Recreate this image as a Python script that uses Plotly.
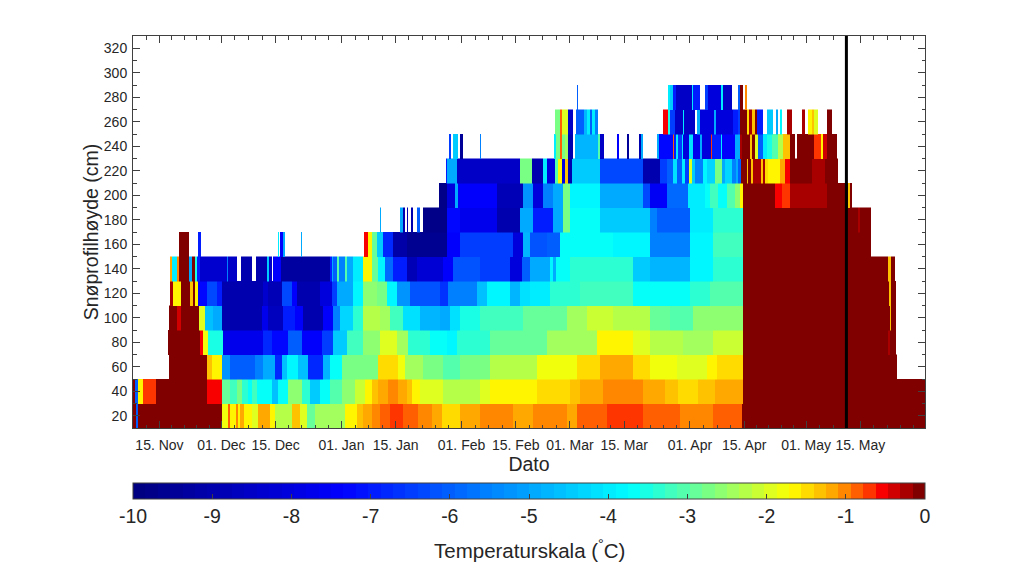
import numpy as np
import plotly.graph_objects as go

# Days are counted from 1 November; each layer is a run list of (end_day, temperature).
START_DAY = 7.16
END_DAY = 211.7
MARK_DAY = 191.4
TICK_DAYS = [14, 30, 44, 61, 75, 92, 106, 120, 134, 151, 165, 181, 195]
TICK_TEXT = ["15. Nov", "01. Dec", "15. Dec", "01. Jan", "15. Jan", "01. Feb", "15. Feb",
             "01. Mar", "15. Mar", "01. Apr", "15. Apr", "01. May", "15. May"]
DEPTH_TICKS = list(range(20, 321, 20))
SCALE_TICKS = list(range(-10, 1))
SCALE_TEXT = ["-10", "-9", "-8", "-7", "-6", "-5", "-4", "-3", "-2", "-1", "0"]

LAYER_20 = [(7.9,0),(8.4,-6),(30.2,-0.02),(31.7,-1.8),(32.2,-0.9),(33.8,-1.7),(34.3,-1),(34.8,-1.6),(35.8,-1.1),(37.9,-1.7),(39.4,-1.9),(42.5,-1.2),(43.8,-1.7),(48.2,-2.3),(50.3,-1.3),(52.1,-2),(54.2,-2.9),(61.9,-2.4),(65,-1.6),(66.6,-1.4),(68.9,-1.1),(71,-1),(73.5,-0.85),(76.9,-0.7),(80.8,-0.85),(84.4,-1.05),(87,-1.15),(91.6,-1.5),(96.8,-1.25),(105.3,-1.05),(110.5,-1.1),(119.3,-0.95),(121.8,-1.15),(129.6,-0.8),(138.9,-0.7),(148.5,-0.85),(157,-1.05),(164.5,-0.85),(211.7,-0.02)]
LAYER_40 = [(7.7,0),(8.4,-6),(9.7,-1.6),(13.1,-0.75),(26.3,-0.02),(30.2,-0.6),(32.2,-2.9),(34,-3.2),(35.3,-2.8),(36.9,-3.3),(37.9,-3.6),(39.2,-3.2),(43.1,-3.6),(44.6,-4.6),(47.2,-3.6),(50.8,-2.6),(52.9,-3.4),(55.5,-4.4),(58,-3.7),(61.1,-3),(64.5,-2.6),(67.1,-2.1),(68.9,-1.7),(70.4,-1.4),(73,-1.15),(75.6,-0.95),(78,-1.1),(79.2,-1.4),(81.3,-1.6),(87.2,-2),(91.6,-2.3),(96.8,-2.2),(99.4,-1.9),(111.5,-1.65),(120,-1.5),(122.6,-1.3),(128.6,-1.15),(138.9,-1),(144.6,-1.25),(148,-1.4),(153.1,-1.55),(157.5,-1.35),(164.7,-1.2),(211.7,-0.02)]
LAYER_60 = [(16.5,None),(26.3,-0.02),(27.6,-1.3),(30.2,-1.7),(32.2,-5.2),(38.7,-6),(40.7,-5.5),(43.8,-5),(45.6,-6.8),(46.9,-4.6),(49.8,-3.8),(52.4,-4.6),(56.2,-6.8),(58,-4.8),(61.1,-3.6),(70.4,-2.8),(75.6,-1.5),(77.4,-1.75),(82.1,-2.4),(87.2,-2.8),(91.6,-3.1),(99.4,-2.7),(111.5,-2.2),(121.8,-1.85),(127.8,-1.5),(136.3,-1.25),(140.7,-1.5),(142.5,-1.75),(147.7,-1.85),(151.8,-2),(155.4,-1.9),(158,-1.7),(164.7,-1.55),(204.5,-0.02)]
LAYER_80 = [(16.3,None),(24.47,-0.02),(25.2,-0.5),(26.5,-1.8),(30.4,-3.5),(40.7,-7.7),(43.1,-6.8),(47.2,-7.3),(50.8,-6),(56,-7.5),(58.8,-6.5),(62.4,-4.4),(66.6,-3.2),(71,-2.6),(75.3,-1.9),(78.2,-2.4),(83.9,-3.3),(88.3,-3.7),(90.8,-3.9),(99.4,-3.3),(114.1,-2.9),(127,-2.5),(136.3,-1.7),(140.7,-2),(149.2,-2.3),(157,-2.4),(164.7,-2.1),(202.2,-0.02),(202.7,-0.3),(204.2,-0.02)]
LAYER_100 = [(16.5,None),(18.5,0),(19.5,-0.4),(24.2,-0.02),(25.8,-1.9),(27.8,-4.6),(30.2,-5),(40.5,-9),(42,-7.8),(45.9,-8.7),(49,-7),(51.1,-7.5),(56.2,-9),(58.8,-7.5),(60.6,-5.5),(64,-4.3),(66.6,-3.4),(71,-2.3),(73.5,-2.4),(76.9,-3.2),(81.3,-4.2),(86.5,-4.8),(89,-5),(91.6,-4.2),(96.8,-3.5),(107.9,-3.2),(119.3,-2.9),(124.4,-2.5),(131.2,-2.1),(140.7,-2.3),(145.9,-2.9),(151.8,-3),(164.7,-2.6),(202.7,-0.02),(203,-1.4),(204.2,-0.02)]
LAYER_120 = [(16.6,None),(17.5,-0.3),(19.5,-1.6),(21.9,0),(22.7,-1.4),(23.2,0),(24,-1.6),(26.3,-7.2),(28.9,-6.3),(30.2,-7),(40.7,-9),(42,-8.4),(45.6,-8.8),(48.2,-6.3),(49.5,-7.5),(55.5,-9),(58.5,-8),(59.8,-6.5),(64,-5),(66.6,-3.8),(70.2,-2.6),(72.8,-2.8),(75.3,-3.8),(78.7,-5.2),(86.5,-6.1),(88.5,-6.6),(96,-5.5),(98.6,-4.6),(104.5,-3.9),(107.1,-4.8),(109.7,-4.2),(114.9,-4),(122.6,-3.4),(136.3,-3.2),(151,-3.6),(156.2,-3.4),(164.7,-3),(202.4,-0.02),(202.8,-1.3),(204.1,-0.02)]
LAYER_140 = [(16.7,None),(17.2,-1.1),(18.5,-4),(19,-1),(21.6,0),(22.4,-5),(23.2,0),(23.7,-3.5),(24.5,-7),(31.4,-8.3),(31.8,-5.5),(34,-8.5),(35.1,None),(37.9,-9),(39,None),(41.8,-9),(42.2,-4.5),(43,-8.5),(43.2,None),(45.4,-7.5),(58,-9.3),(58.5,-7),(58.8,-5),(59.9,-6),(60.4,-3),(61.9,-5.5),(62.4,-3),(64,-5),(66.6,-4),(68.9,-1.6),(70.4,-2.9),(72.2,-3.9),(74.3,-5.8),(78,-7),(80.5,-8.8),(87.2,-8.2),(89.8,-7.4),(96.8,-6.2),(104.5,-6.5),(107.6,-8),(109.7,-6),(114.9,-5),(115.6,-3.8),(116.4,-5),(120,-3.6),(136.3,-3.4),(140.7,-4.4),(151,-4.8),(157,-3.8),(164.7,-3.3),(202.2,-0.02),(203,-1.3),(204,-0.02)]
LAYER_160 = [(19,None),(21.6,0),(24,None),(24.7,-7),(44.6,None),(44.9,-4),(45.1,None),(45.9,-7.5),(46.4,-5),(50.5,None),(50.7,-5),(66.8,None),(67.9,-0.5),(68.9,-1.7),(70.2,-2.9),(71.7,-4.5),(74.3,-6.8),(78,-9.2),(88.3,-9.6),(91.6,-7.5),(105.3,-6.5),(107.9,-8),(109.7,-4.8),(114.1,-6.2),(117.5,-6),(120,-3.6),(131.2,-3.7),(140.7,-3.9),(151,-5.5),(157,-3.9),(164.7,-3.2),(197.8,-0.02)]
LAYER_180 = [(71,None),(71.2,-5),(76.1,None),(76.9,-5),(77.4,-9),(78,None),(78.3,-9),(79,None),(79.4,-9),(80.5,None),(81.3,-6),(82.1,None),(88.3,-9.8),(91.6,-7.3),(101.2,-7.8),(107.1,-9),(110.5,-5),(115.6,-7),(118.2,-5),(120,-2.8),(127.8,-3.7),(140.7,-4.4),(142.5,-5.5),(151,-6),(157,-4),(164.7,-3.4),(194.5,-0.02),(195,-0.2),(197.8,-0.02)]
LAYER_200 = [(86.2,None),(88.3,-9.7),(90.3,-8),(91.1,-5),(101.2,-7.5),(107.9,-8.8),(110.5,-5.2),(113.1,-8),(115.6,-5.5),(118.2,-5),(120,-2.8),(127.8,-3.9),(138.9,-5),(140.7,-6.3),(143.3,-7.6),(145.1,-7.4),(150.5,-5.8),(154.9,-4),(156.2,-3.7),(158.2,-3.2),(160.6,-3.7),(162.6,-3.1),(164,-2.6),(164.7,-1.7),(173,-0.02),(174.8,-0.6),(176.9,-0.75),(181.2,-0.2),(186.4,-0.3),(191.8,-0.02),(192.4,-1.3),(192.8,-0.02)]
LAYER_220 = [(88,None),(88.3,-7),(90.8,-5),(107.1,-8.5),(110.2,-2.8),(113.1,-9),(114.1,-4),(116.2,-8),(117,-3),(118,-1.7),(118.8,-8),(119.5,-1.4),(120.6,-9),(127.8,-4.4),(138.9,-6.3),(143.3,-9),(145.1,-6.5),(146.6,-6),(147.7,-4.2),(149,-6),(149.7,-4),(150.8,-6.5),(151.5,-2),(152.3,-4.5),(154.4,-5.5),(155.4,-3.8),(157.5,-4.3),(159.3,-2.8),(160.1,-5),(161.9,-4.3),(162.9,-5.5),(163.4,-5),(164.2,-6),(165.8,-0.05),(166,-1.3),(166.8,-0.05),(167.3,-1.3),(169.4,-0.2),(169.9,-1.3),(170.4,-0.3),(171.2,-1.5),(174.3,-1.7),(175.6,-1.2),(176.9,-0.6),(182.5,-0.05),(185.9,-0.3),(189.2,-0.05)]
LAYER_240 = [(88.8,None),(89.3,-6.5),(89.8,None),(91.1,-4.5),(91.6,None),(92.4,-9.5),(96.8,None),(97.1,-5.5),(115.9,None),(116.4,-4),(117.5,-2.8),(118,-0.8),(118.8,-2.8),(119.5,-2.5),(120.8,-9),(121.3,None),(127.3,-4.8),(127.8,-3),(128.8,-8.5),(132.2,None),(132.7,-7.5),(134.8,None),(135.3,-9.5),(137.9,None),(138.4,-9),(138.9,-5),(142.5,None),(143,-5),(146.6,-7.2),(147,-0.8),(147.4,-7),(147.9,-4),(149,-6.5),(149.3,-4),(150.8,-8),(151.8,-4.2),(153.6,-7.8),(154.2,-5),(156.4,-8),(156.8,-0.7),(159,-7),(159.4,-4),(162.6,-7.5),(164,-5),(164.5,-0.3),(166.5,-0.05),(166.9,-1.3),(167.8,-0.05),(168.6,-2),(169.9,-6),(170.9,-4),(172.2,-3.5),(173.8,-3),(175.1,-2.3),(176.9,-1.4),(178.2,-0.1),(178.7,None),(183.1,-0.05),(184.9,-0.7),(185.3,-1.6),(186.4,-0.4),(189,-0.05)]
LAYER_260 = [(116.2,None),(117.5,-2.8),(118,-0.8),(118.5,-2),(119.5,-1.9),(120.8,-8.5),(121.6,None),(123.7,-6),(124.4,-4.7),(125.2,-4),(125.7,-6),(126.5,-4),(127.3,-5.5),(144,None),(145.3,-0.5),(145.8,-3.5),(147.1,-6.5),(149.2,-8.5),(149.5,-4),(152.3,-8.5),(152.8,None),(153.6,-5),(157.2,-8),(157.7,-5),(162.2,-8),(163.5,-7),(164,-6.5),(165.8,0),(166.3,-1.5),(167,-0.3),(167.8,-1.3),(168.3,0),(169.9,-7),(170.9,None),(172.5,-4.5),(173.3,None),(173.8,-5),(174.3,None),(174.8,-3.8),(176.1,None),(177.4,-0.3),(180,None),(180.7,-0.3),(181.5,None),(182.5,-1.7),(183.1,-1.3),(184.1,-1.9),(186.4,None),(187.7,0)]
LAYER_280 = [(118.9,None),(119.1,-2),(121.8,None),(122.1,-6),(145.3,None),(145.8,-4),(146.6,-4.5),(147.4,-7),(151.5,-8.5),(151.9,-4),(153.6,-7),(154.9,None),(155.6,-6.5),(159,-8),(159.5,-4),(161.9,-8.5),(163.5,None),(164,-6),(164.7,0),(165.2,None),(165.8,-1)]

LAYERS = {20: LAYER_20, 40: LAYER_40, 60: LAYER_60, 80: LAYER_80, 100: LAYER_100, 120: LAYER_120,
          140: LAYER_140, 160: LAYER_160, 180: LAYER_180, 200: LAYER_200, 220: LAYER_220,
          240: LAYER_240, 260: LAYER_260, 280: LAYER_280}

# Colour bar anchors: temperature and colour as seen on the reference scale.
ANCHOR_TEMP = [-10, -7.4, -3.7, -2.65, -1.65, -1.05, -0.65, -0.5, 0]
ANCHOR_R = [0, 0, 0, 128, 255, 255, 255, 255, 128]
ANCHOR_G = [0, 0, 255, 255, 255, 160, 60, 0, 0]
ANCHOR_B = [130, 255, 255, 128, 0, 0, 0, 0, 0]
LEVELS = 64

scale = []
for i in range(LEVELS):
    t = -10 + 10 * i / (LEVELS - 1)
    c = "rgb(%d,%d,%d)" % tuple(np.interp(t, ANCHOR_TEMP, a) for a in (ANCHOR_R, ANCHOR_G, ANCHOR_B))
    scale += [[i / LEVELS, c], [(i + 1) / LEVELS, c]]

INK = "#262626"
AXIS = "#404040"
FONT = "Liberation Sans, Arial, sans-serif"

fig = go.Figure()
for depth, runs in LAYERS.items():
    edges = [START_DAY] + [r[0] for r in runs]
    temps = [r[1] for r in runs]
    fig.add_trace(go.Heatmap(x=edges, y=[depth - 10, depth + 10], z=[temps],
                             coloraxis="coloraxis", hoverongaps=False,
                             name=f"{depth} cm", zsmooth=False))

minor_days = []
for a, b in zip(TICK_DAYS[:-1], TICK_DAYS[1:]):
    n = round((b - a) / 3.4)
    minor_days += [a + (b - a) * k / n for k in range(1, n)]
minor_days += [14 - 3.45, 14 - 6.9]
d = 195 + 3.45
while d < END_DAY:
    minor_days.append(d)
    d += 3.45

fig.add_shape(type="line", x0=MARK_DAY, x1=MARK_DAY, y0=10, y1=330, xref="x", yref="y",
              line=dict(color="black", width=3), layer="above")

fig.add_annotation(text="Temperaturskala (<sup>°</sup>C)", xref="paper", yref="paper", x=0.5, y=-0.309,
                   xanchor="center", yanchor="middle", showarrow=False,
                   font=dict(size=20.5, color=INK, family=FONT))

fig.update_layout(
    width=1023, height=569, autosize=False,
    margin=dict(l=133, r=98, t=36, b=141, pad=0, autoexpand=False),
    paper_bgcolor="white", plot_bgcolor="white",
    font=dict(family=FONT, color=INK, size=14),
    showlegend=False,
    coloraxis=dict(
        cmin=-10, cmax=0, colorscale=scale,
        colorbar=dict(
            orientation="h", x=0, xanchor="left", xref="paper", len=1, lenmode="fraction",
            y=-0.14, yanchor="top", yref="paper", thickness=16, thicknessmode="pixels",
            xpad=0, ypad=0, outlinecolor=AXIS, outlinewidth=1,
            tickvals=SCALE_TICKS, ticktext=SCALE_TEXT, ticks="inside", ticklen=5, tickcolor=AXIS,
            tickfont=dict(size=19.5, color=INK, family=FONT),
        ),
    ),
    xaxis=dict(
        range=[START_DAY, END_DAY], tickvals=TICK_DAYS, ticktext=TICK_TEXT,
        ticks="inside", ticklen=7, tickwidth=1, tickcolor=AXIS, showline=True, linecolor=AXIS,
        linewidth=1, mirror="ticks", showgrid=False, zeroline=False,
        tickfont=dict(size=14, color=INK), tickangle=0, ticklabelstandoff=4,
        minor=dict(tickvals=minor_days, ticks="inside", ticklen=3.5, tickcolor=AXIS, showgrid=False),
        title=dict(text="Dato", font=dict(size=19.5, color=INK), standoff=5),
    ),
    yaxis=dict(
        range=[10, 330], tickvals=DEPTH_TICKS,
        ticks="inside", ticklen=7, tickwidth=1, tickcolor=AXIS, showline=True, linecolor=AXIS,
        linewidth=1, mirror="ticks", showgrid=False, zeroline=False,
        tickfont=dict(size=14, color=INK), ticklabelstandoff=2,
        minor=dict(dtick=10, tick0=10, ticks="inside", ticklen=3.5, tickcolor=AXIS, showgrid=False),
        title=dict(text="Snøprofilhøyde (cm)", font=dict(size=19.5, color=INK), standoff=0),
    ),
)

fig.write_html("out.html", config={"displayModeBar": False},
               post_script="document.body.style.margin='0';")
